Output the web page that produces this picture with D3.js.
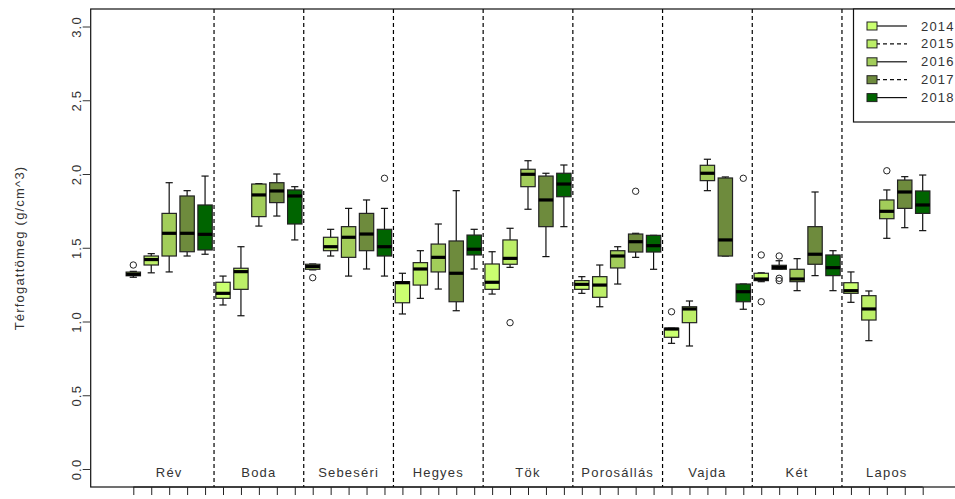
<!DOCTYPE html>
<html>
<head>
<meta charset="utf-8">
<script src="https://cdn.jsdelivr.net/npm/d3@7"></script>
<style>
  html, body { margin: 0; padding: 0; background: #fff; }
  svg { display: block; font-family: "Liberation Sans", Arial, sans-serif; }
</style>
</head>
<body>
<svg id="chart" width="955" height="499"></svg>
<script>
// ---- data ----
const sites = ["Rév", "Boda", "Sebeséri", "Hegyes", "Tök", "Porosállás", "Vajda", "Két", "Lapos"];
const years = ["2014", "2015", "2016", "2017", "2018"];
const yearColors = ["#CAFF70", "#BCEE68", "#A2CD5A", "#6E8B3D", "#006400"];
const legendDash = [false, true, false, true, false];
const yTicks = [0, 0.5, 1.0, 1.5, 2.0, 2.5, 3.0];

// per year: values per site (order of `sites`)
const lo2014  = [1.300, 1.112, 1.350, 1.051, 1.186, 1.191, 0.852, 1.270, 1.130];
const q1_2014 = [1.310, 1.157, 1.354, 1.127, 1.218, 1.218, 0.893, 1.277, 1.191];
const med2014 = [1.320, 1.191, 1.372, 1.263, 1.266, 1.252, 0.949, 1.288, 1.209];
const q3_2014 = [1.335, 1.266, 1.388, 1.270, 1.390, 1.277, 0.954, 1.327, 1.263];
const hi2014  = [1.340, 1.308, 1.390, 1.327, 1.473, 1.304, 0.954, 1.330, 1.336];

const lo2015  = [1.330, 1.039, 1.444, 1.157, 1.367, 1.100, 0.834, 1.354, 0.870];
const q1_2015 = [1.383, 1.218, 1.480, 1.247, 1.388, 1.164, 0.992, 1.354, 1.010];
const med2015 = [1.420, 1.338, 1.507, 1.356, 1.428, 1.247, 1.085, 1.367, 1.085];
const q3_2015 = [1.444, 1.361, 1.571, 1.399, 1.553, 1.304, 1.100, 1.381, 1.175];
const hi2015  = [1.460, 1.507, 1.625, 1.480, 1.632, 1.383, 1.139, 1.412, 1.207];

const lo2016  = [1.336, 1.647, 1.308, 1.220, 1.761, 1.254, 1.887, 1.209, 1.564];
const q1_2016 = [1.444, 1.711, 1.435, 1.336, 1.914, 1.363, 1.955, 1.270, 1.697];
const med2016 = [1.598, 1.858, 1.571, 1.435, 1.998, 1.444, 2.005, 1.288, 1.747];
const q3_2016 = [1.733, 1.932, 1.643, 1.525, 2.032, 1.480, 2.059, 1.354, 1.824];
const hi2016  = [1.941, 1.935, 1.767, 1.661, 2.090, 1.507, 2.100, 1.426, 1.892];

const lo2017  = [1.444, 1.715, 1.356, 1.073, 1.440, 1.435, 1.444, 1.311, 1.636];
const q1_2017 = [1.473, 1.806, 1.480, 1.134, 1.643, 1.471, 1.444, 1.388, 1.767];
const med2017 = [1.598, 1.885, 1.593, 1.327, 1.824, 1.541, 1.553, 1.456, 1.878];
const q3_2017 = [1.851, 1.941, 1.733, 1.546, 1.986, 1.593, 1.973, 1.643, 1.959];
const hi2017  = [1.887, 2.000, 1.824, 1.887, 2.005, 1.598, 1.980, 1.878, 1.982];

const lo2018  = [1.456, 1.553, 1.308, 1.356, 1.643, 1.354, 1.083, 1.209, 1.616];
const q1_2018 = [1.485, 1.661, 1.444, 1.451, 1.846, 1.471, 1.134, 1.311, 1.733];
const med2018 = [1.591, 1.851, 1.507, 1.490, 1.932, 1.514, 1.202, 1.365, 1.790];
const q3_2018 = [1.790, 1.892, 1.625, 1.586, 2.005, 1.584, 1.254, 1.451, 1.885];
const hi2018  = [1.986, 1.914, 1.767, 1.625, 2.061, 1.584, 1.254, 1.480, 1.993];

// outliers: [siteIndex, yearIndex, value]
const outliers = [
  [0, 0, 1.383], [2, 0, 1.297], [2, 4, 1.971], [4, 1, 0.992],
  [5, 3, 1.883], [6, 0, 1.066], [6, 4, 1.971],
  [7, 0, 1.451], [7, 0, 1.134], [7, 1, 1.444], [7, 1, 1.293], [7, 1, 1.277],
  [8, 2, 2.022]
];

const loAll  = [lo2014, lo2015, lo2016, lo2017, lo2018];
const q1All  = [q1_2014, q1_2015, q1_2016, q1_2017, q1_2018];
const medAll = [med2014, med2015, med2016, med2017, med2018];
const q3All  = [q3_2014, q3_2015, q3_2016, q3_2017, q3_2018];
const hiAll  = [hi2014, hi2015, hi2016, hi2017, hi2018];

const boxes = [];
sites.forEach((s, si) => {
  years.forEach((yr, yi) => {
    boxes.push({
      pos: si * years.length + yi + 1, si, yi,
      lo: loAll[yi][si], q1: q1All[yi][si], med: medAll[yi][si],
      q3: q3All[yi][si], hi: hiAll[yi][si]
    });
  });
});

// ---- layout ----
const svg = d3.select("#chart");
const plotL = 90.7, plotR = 958, plotT = 9, plotB = 487;
const x = d3.scaleLinear().domain([1, 45]).range([133.3, 922.7]);
const y = d3.scaleLinear().domain([0, 3]).range([469, 26.5]);
const step = x(2) - x(1);
const boxW = step * 0.8;
const stapleW = boxW * 0.5;
const textColor = "#333";
const ls = "1.2px";

// dashed group dividers
const dividers = d3.range(1, sites.length).map(k => k * years.length + 0.5);
svg.append("g").selectAll("line").data(dividers).join("line")
  .attr("x1", d => x(d)).attr("x2", d => x(d))
  .attr("y1", plotT).attr("y2", plotB)
  .attr("stroke", "#000").attr("stroke-width", 1.2)
  .attr("stroke-dasharray", "4,3");

// boxes
const g = svg.append("g");
const bx = g.selectAll("g.box").data(boxes).join("g").attr("class", "box");
// whiskers
bx.append("line").attr("x1", d => x(d.pos)).attr("x2", d => x(d.pos))
  .attr("y1", d => y(d.q3)).attr("y2", d => y(d.hi))
  .attr("stroke", "#111").attr("stroke-width", 1.2);
bx.append("line").attr("x1", d => x(d.pos)).attr("x2", d => x(d.pos))
  .attr("y1", d => y(d.q1)).attr("y2", d => y(d.lo))
  .attr("stroke", "#111").attr("stroke-width", 1.2);
// staples
bx.append("line").attr("x1", d => x(d.pos) - stapleW / 2).attr("x2", d => x(d.pos) + stapleW / 2)
  .attr("y1", d => y(d.hi)).attr("y2", d => y(d.hi))
  .attr("stroke", "#111").attr("stroke-width", 1.2);
bx.append("line").attr("x1", d => x(d.pos) - stapleW / 2).attr("x2", d => x(d.pos) + stapleW / 2)
  .attr("y1", d => y(d.lo)).attr("y2", d => y(d.lo))
  .attr("stroke", "#111").attr("stroke-width", 1.2);
// box
bx.append("rect")
  .attr("x", d => x(d.pos) - boxW / 2).attr("width", boxW)
  .attr("y", d => y(d.q3)).attr("height", d => Math.max(1, y(d.q1) - y(d.q3)))
  .attr("fill", d => yearColors[d.yi]).attr("stroke", "#222").attr("stroke-width", 1.2);
// median
bx.append("line").attr("x1", d => x(d.pos) - boxW / 2).attr("x2", d => x(d.pos) + boxW / 2)
  .attr("y1", d => y(d.med)).attr("y2", d => y(d.med))
  .attr("stroke", "#000").attr("stroke-width", 3.2);

// outliers
svg.append("g").selectAll("circle").data(outliers).join("circle")
  .attr("cx", d => x(d[0] * years.length + d[1] + 1))
  .attr("cy", d => y(d[2]))
  .attr("r", 3.2).attr("fill", "none").attr("stroke", "#222").attr("stroke-width", 1);

// group labels
svg.append("g").selectAll("text").data(sites).join("text")
  .attr("x", (d, i) => x(i * years.length + 3))
  .attr("y", 472)
  .attr("text-anchor", "middle").attr("dominant-baseline", "central")
  .attr("font-size", 13).attr("letter-spacing", ls).attr("fill", textColor)
  .text(d => d);

// plot border
svg.append("rect").attr("x", plotL).attr("y", plotT)
  .attr("width", plotR - plotL).attr("height", plotB - plotT)
  .attr("fill", "none").attr("stroke", "#111").attr("stroke-width", 1.2);

// y axis
const yAxis = svg.append("g").attr("transform", `translate(${plotL},0)`)
  .call(d3.axisLeft(y).tickValues(yTicks).tickSize(8).tickFormat(d3.format(".1f")));
yAxis.select(".domain").remove();
yAxis.selectAll(".tick line").attr("stroke", "#333");
yAxis.selectAll(".tick text")
  .attr("x", null).attr("dy", null)
  .attr("transform", "translate(-14,0) rotate(-90)")
  .attr("text-anchor", "middle").attr("dominant-baseline", "central")
  .attr("font-size", 13).attr("letter-spacing", ls)
  .attr("font-family", "Liberation Sans, Arial, sans-serif").attr("fill", textColor);

// x axis (ticks only)
const xAxis = svg.append("g").attr("transform", `translate(0,${plotB})`)
  .call(d3.axisBottom(x).tickValues(d3.range(1, 46)).tickSize(8).tickFormat(""));
xAxis.select(".domain").attr("d", `M${x(1)},0H${x(45)}`).attr("stroke", "#111");
xAxis.selectAll(".tick line").attr("stroke", "#222");

// y axis title
svg.append("text")
  .attr("transform", `translate(19,${(plotT + plotB) / 2}) rotate(-90)`)
  .attr("text-anchor", "middle").attr("dominant-baseline", "central")
  .attr("font-size", 13).attr("letter-spacing", ls).attr("fill", textColor)
  .text("Térfogattömeg (g/cm^3)");

// legend
const lg = svg.append("g");
lg.append("rect").attr("x", 853.5).attr("y", plotT).attr("width", 120).attr("height", 113)
  .attr("fill", "#fff").attr("stroke", "#111").attr("stroke-width", 1.2);
const items = lg.selectAll("g.item").data(years).join("g").attr("class", "item")
  .attr("transform", (d, i) => `translate(0,${26 + i * 17.9})`);
items.append("line").attr("x1", 876).attr("x2", 907).attr("y1", 0).attr("y2", 0)
  .attr("stroke", "#111").attr("stroke-width", 1.2)
  .attr("stroke-dasharray", (d, i) => legendDash[i] ? "4,3" : null);
items.append("rect").attr("x", 867).attr("y", -4).attr("width", 10).attr("height", 8)
  .attr("fill", (d, i) => yearColors[i]).attr("stroke", "#222").attr("stroke-width", 1);
items.append("text").attr("x", 921).attr("y", 0)
  .attr("dominant-baseline", "central").attr("font-size", 13).attr("letter-spacing", ls)
  .attr("fill", textColor).text(d => d);
</script>
</body>
</html>
